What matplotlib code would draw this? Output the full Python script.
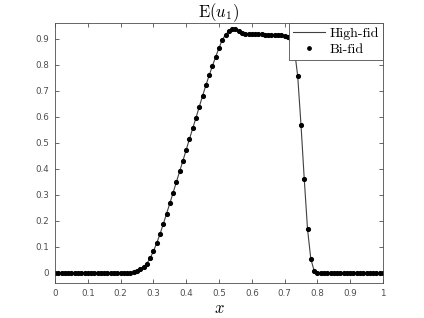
import numpy as np
import matplotlib.pyplot as plt

plt.rcParams['mathtext.fontset'] = 'cm'
plt.rcParams['axes.formatter.use_mathtext'] = True

# Grid points and expected value of u1
x = np.round(np.arange(0, 1.001, 0.01), 2)
u_rise = [0.003, 0.008, 0.014, 0.022, 0.035, 0.055, 0.082, 0.113, 0.148, 0.186,
          0.226, 0.266, 0.307, 0.348, 0.389, 0.430, 0.472, 0.514, 0.555, 0.596,
          0.638, 0.680, 0.720, 0.758, 0.795, 0.830, 0.864, 0.895, 0.915, 0.928,
          0.936, 0.935, 0.928, 0.921, 0.918]
u_plateau = [0.917, 0.917, 0.917, 0.916, 0.916, 0.915, 0.915, 0.914, 0.914, 0.913,
             0.912, 0.911, 0.907]
u_fall = [0.897, 0.858, 0.755, 0.568, 0.358, 0.166, 0.052, 0.008]
u_high = [0.0] * 24 + u_rise + u_plateau + u_fall
u_high = np.array(u_high + [0.0] * (len(x) - len(u_high)))
u_bi = u_high.copy()

fig = plt.figure(figsize=(4.24, 3.18), dpi=100)
ax = fig.add_axes([0.1297, 0.110, 0.7736, 0.818])

ax.plot(x, u_high, '-', color='0.25', lw=0.8, label='High-fid')
ax.plot(x, u_bi, 'o', color='black', ms=2.7, mec='black', label='Bi-fid')

ax.set_xlim(0, 1)
ax.set_ylim(-0.04, 0.96)
ax.set_xticks(np.arange(0, 1.01, 0.1))
ax.set_xticklabels(['0', '0.1', '0.2', '0.3', '0.4', '0.5', '0.6', '0.7', '0.8', '0.9', '1'])
ax.set_yticks(np.arange(0, 0.91, 0.1))
ax.set_yticklabels(['0', '0.1', '0.2', '0.3', '0.4', '0.5', '0.6', '0.7', '0.8', '0.9'])
ax.tick_params(direction='in', length=3, width=0.6, labelsize=6.3, colors='0.3',
               top=True, right=True, pad=4)
for s in ax.spines.values():
    s.set_color('0.3')
    s.set_linewidth(0.6)

ax.set_title(r'$\mathrm{E}(u_1)$', fontsize=12, pad=4)
ax.set_xlabel(r'$x$', fontsize=12, labelpad=1)

leg = ax.legend(loc='upper right', borderaxespad=0, fancybox=False, framealpha=1,
                edgecolor='0.3', prop={'family': 'cmr10', 'size': 10},
                handlelength=2.3, handletextpad=0.3, borderpad=0.3, labelspacing=0.25,
                markerscale=0.9)
leg.get_frame().set_linewidth(0.6)

fig.savefig('out.png', dpi=100)
